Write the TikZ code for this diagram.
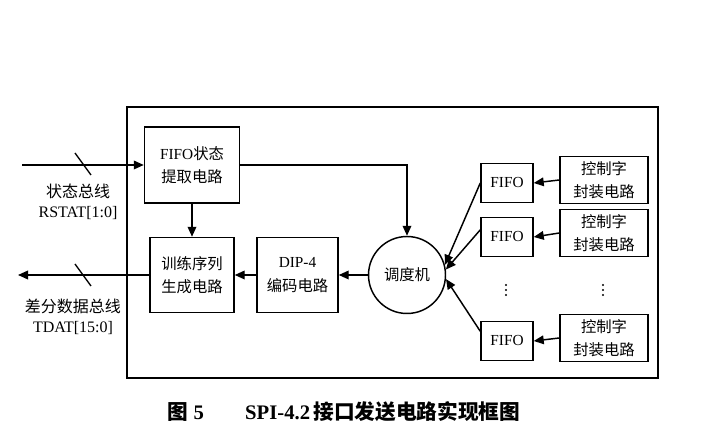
\documentclass[tikz,border=0pt]{standalone}
\usepackage{fontspec}
\setmainfont{Liberation Serif}
\newfontfamily\zhfont{Noto Sans CJK SC}
\newcommand{\cntext}[1]{{\zhfont #1}}
\usetikzlibrary{arrows.meta}
\tikzset{
	blk/.style={draw, line width=1.1pt, inner sep=0pt, align=center, font=\fontsize{11.5}{17.5}\selectfont},
	arr/.style={line width=1.1pt, -{Triangle[length=7.5pt,width=6.5pt]}},
	lbl/.style={inner sep=0.75pt, align=center, font=\fontsize{12}{15}\selectfont},
}
\begin{document}
\begin{tikzpicture}[x=0.75pt,y=0.75pt,yscale=-1,xscale=1]
	\useasboundingbox (0,0) rectangle (718,448);

	%Shape: Rectangle
	\draw [line width=1.1pt] (127,107) rectangle (658,378);

	%Shape: Rectangle
	\node [blk, minimum width=71.25pt, minimum height=57pt] (fifostat) at (192,165) {FIFO\cntext{状态}\\\cntext{提取电路}};
	%Shape: Rectangle
	\node [blk, minimum width=63pt, minimum height=56.25pt] (train) at (192,275) {\cntext{训练序列}\\\cntext{生成电路}};
	%Shape: Rectangle
	\node [blk, minimum width=60.75pt, minimum height=56.25pt] (dip) at (297.5,275) {DIP-4\\\cntext{编码电路}};
	%Shape: Circle
	\node [blk, circle, minimum size=57.75pt] (sched) at (407,275) {\cntext{调度机}};

	%Shape: Rectangle
	\node [blk, minimum width=39pt, minimum height=29.25pt] (fifoa) at (507,183) {FIFO};
	\node [blk, minimum width=39pt, minimum height=29.25pt] (fifob) at (507,237) {FIFO};
	\node [blk, minimum width=39pt, minimum height=29.25pt] (fifoc) at (507,341) {FIFO};
	%Shape: Rectangle
	\node [blk, minimum width=66pt, minimum height=35.25pt] (ctla) at (604,180) {\cntext{控制字}\\\cntext{封装电路}};
	\node [blk, minimum width=66pt, minimum height=35.25pt] (ctlb) at (604,233) {\cntext{控制字}\\\cntext{封装电路}};
	\node [blk, minimum width=66pt, minimum height=35.25pt] (ctlc) at (604,338) {\cntext{控制字}\\\cntext{封装电路}};

	%Shape: Dots
	\foreach \dx in {506,603} {
		\foreach \dy in {285,290,295}
			\fill (\dx,\dy) circle [radius=1.1];
	}

	%Straight Lines
	\coordinate (rin) at (22,165);
	\coordinate (tout) at (18,275);
	\draw [arr] (rin) -- (fifostat.west);
	\draw [arr] (train.west) -- (tout);
	\draw [line width=1pt] (75,153) -- (91,175);
	\draw [line width=1pt] (75,264) -- (91,286);

	\draw [arr] (fifostat.south) -- (train.north);
	\draw [arr] (fifostat.east) -| (sched.north);
	\draw [arr] (sched.west) -- (dip.east);
	\draw [arr] (dip.west) -- (train.east);

	\draw [arr] (fifoa.west) -- (sched.15);
	\draw [arr] (fifob.165) -- (sched.8);
	\draw [arr] (fifoc.160) -- (sched.-6);
	\draw [arr] (ctla.west) -- (fifoa.east);
	\draw [arr] (ctlb.west) -- (fifob.east);
	\draw [arr] (ctlc.west) -- (fifoc.east);

	% Text Node
	\node [lbl] (lrstat) at (78,202) {\cntext{状态总线}\\RSTAT[1:0]};
	% Text Node
	\node [lbl] (ltdat) at (73,317) {\cntext{差分数据总线}\\TDAT[15:0]};
	% Text Node
	\node [inner sep=0.75pt, font=\fontsize{15.5}{18}\selectfont\bfseries] (caption) at (344,412) {\cntext{图}\ 5\qquad SPI-4.2\,\cntext{接口发送电路实现框图}};

\end{tikzpicture}
\end{document}
